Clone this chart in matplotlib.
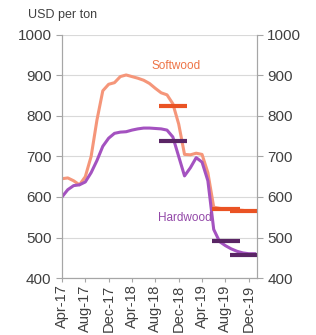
"""
pulp prices, softwood vs hardwood, with forecast bars
"""

import matplotlib
matplotlib.use('Agg')
import matplotlib.pyplot as plt

plt.rcParams['font.family'] = ['Liberation Sans', 'DejaVu Sans']

# colours
SOFT = '#F5967A'
HARD = '#A452C0'
SOFT_FC = '#EA5324'
HARD_FC = '#5A2565'
GREY = '#A6A6A6'
TEXT = '#404040'

# monthly prices, Apr-17 .. Jan-20 (month index 0 = Apr-17)
months = list(range(34))
softwood = [645, 647, 640, 630, 650, 700, 790, 862, 878, 882, 897, 901,
            897, 893, 888, 880, 868, 857, 852, 830, 780, 705, 704, 708,
            705, 660, 575, 572, 570, 570, 568, 567, 565, 565]
hardwood = [600, 618, 628, 630, 637, 660, 690, 725, 745, 757, 760, 761,
            765, 768, 770, 770, 769, 768, 765, 748, 700, 652, 672, 697,
            686, 640, 520, 490, 480, 472, 466, 462, 460, 460]

# forecasts: (start month, end month, price)
soft_forecast = [(16.7, 21.4, 825), (25.7, 30.5, 570), (28.8, 33.4, 565)]
hard_forecast = [(16.7, 21.4, 738), (25.7, 30.5, 492), (28.8, 33.4, 457)]

tick_months = [0, 4, 8, 12, 16, 20, 24, 28, 32]
tick_labels = ['Apr-17', 'Aug-17', 'Dec-17', 'Apr-18', 'Aug-18',
               'Dec-18', 'Apr-19', 'Aug-19', 'Dec-19']


def style_axis(ax):
    """
        grey spines, outward ticks, no top frame
    """
    ax.spines['top'].set_visible(False)
    for side in ['left', 'right', 'bottom']:
        ax.spines[side].set_color(GREY)
    ax.tick_params(colors=GREY, labelcolor=TEXT, labelsize=11, length=4)


fig = plt.figure(figsize=(3.16, 3.35), dpi=100)
ax = fig.add_axes([0.196, 0.170, 0.617, 0.726])

# gridlines
ax.set_ylim(400, 1000)
ax.set_yticks(range(400, 1001, 100))
ax.grid(axis='y', color='#D9D9D9', linewidth=0.8)
ax.set_axisbelow(True)

# price lines
ax.plot(months, softwood, color=SOFT, linewidth=2.2, zorder=3)
ax.plot(months, hardwood, color=HARD, linewidth=2.2, zorder=3)

# forecast bars
for start, end, price in soft_forecast:
    ax.hlines(price, start, end, color=SOFT_FC, linewidth=3, zorder=4)
for start, end, price in hard_forecast:
    ax.hlines(price, start, end, color=HARD_FC, linewidth=3, zorder=4)

ax.set_xlim(0, 33.4)
ax.set_xticks(tick_months)
ax.set_xticklabels(tick_labels, rotation=90)
style_axis(ax)
ax.tick_params(axis='x', length=3, pad=1.5, labelsize=10.5)

# right hand axis, same scale
ax2 = ax.twinx()
ax2.set_ylim(400, 1000)
ax2.set_yticks(range(400, 1001, 100))
style_axis(ax2)

# labels
ax.text(15.3, 923, 'Softwood', color='#EE7446', fontsize=8.5, va='center')
ax.text(16.5, 548, 'Hardwood', color='#9348A8', fontsize=8.5, va='center')
fig.text(0.089, 0.955, 'USD per ton', color=TEXT, fontsize=9, va='center')

plt.savefig('out.png', dpi=100)
